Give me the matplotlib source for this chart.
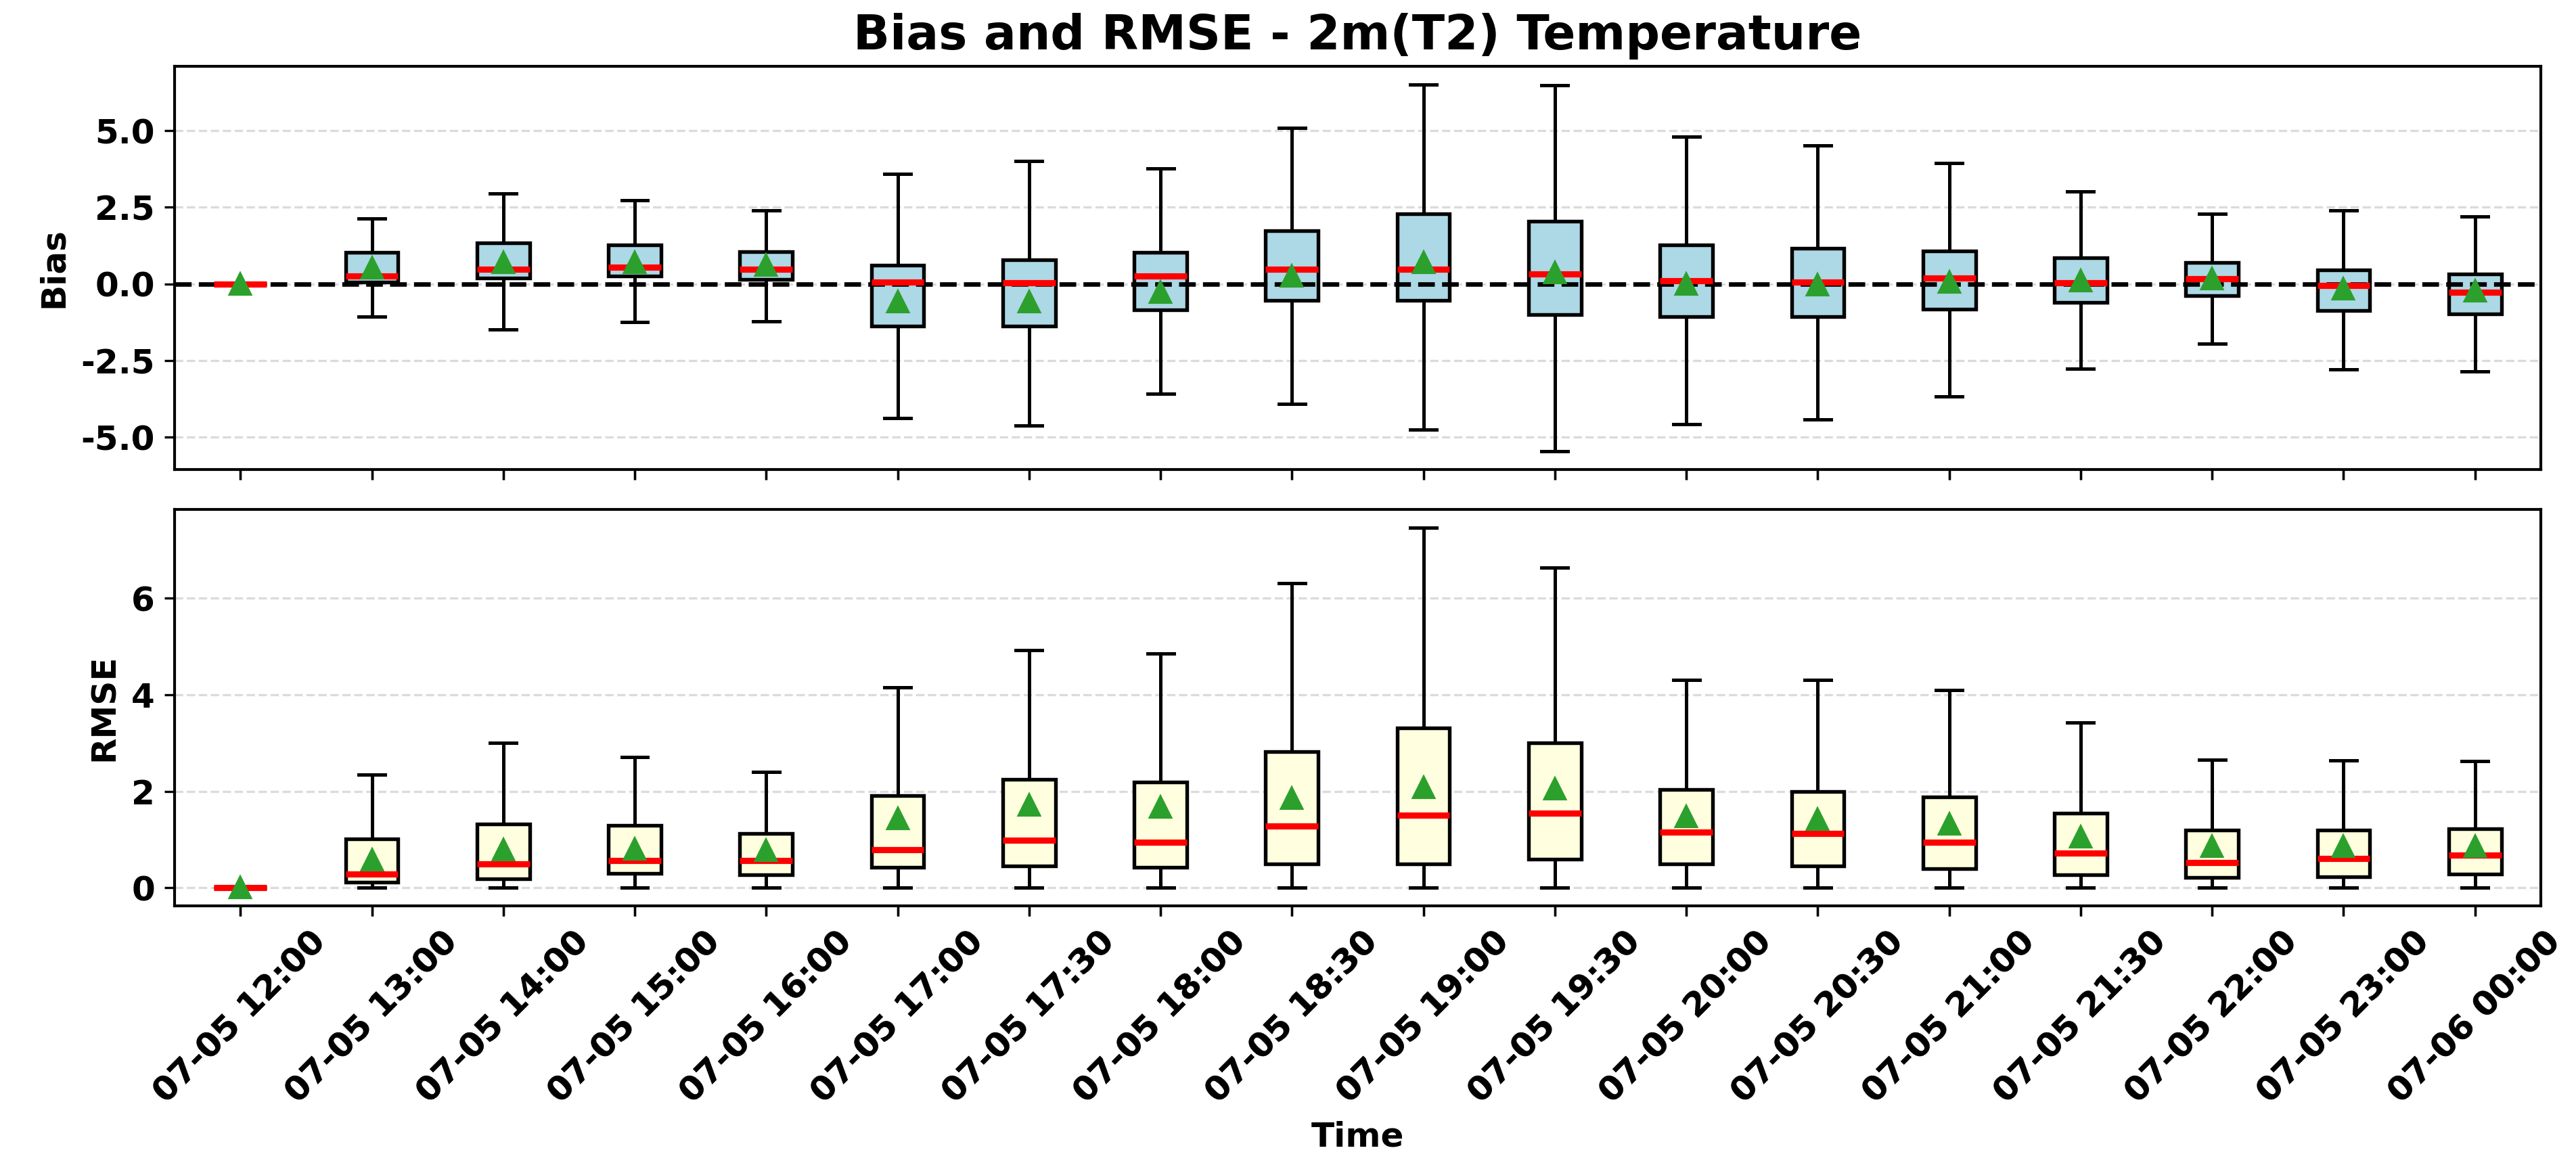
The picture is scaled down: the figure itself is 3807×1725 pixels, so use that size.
import matplotlib
matplotlib.use('Agg')
import matplotlib.pyplot as plt
from matplotlib.ticker import MultipleLocator, FormatStrFormatter

times = ['07-05 12:00', '07-05 13:00', '07-05 14:00', '07-05 15:00', '07-05 16:00',
         '07-05 17:00', '07-05 17:30', '07-05 18:00', '07-05 18:30', '07-05 19:00',
         '07-05 19:30', '07-05 20:00', '07-05 20:30', '07-05 21:00', '07-05 21:30',
         '07-05 22:00', '07-05 23:00', '07-06 00:00']

# Bias (box statistics)
bias_lo = [0, -1.07, -1.49, -1.24, -1.21, -4.37, -4.62, -3.58, -3.90, -4.74, -5.45, -4.57, -4.42, -3.67, -2.77, -1.95, -2.79, -2.84]
bias_q1 = [0, 0.07, 0.20, 0.27, 0.14, -1.38, -1.38, -0.84, -0.54, -0.54, -0.99, -1.07, -1.07, -0.82, -0.59, -0.37, -0.87, -0.97]
bias_med = [0, 0.27, 0.48, 0.54, 0.48, 0.07, 0.05, 0.25, 0.48, 0.48, 0.32, 0.10, 0.07, 0.20, 0.05, 0.17, -0.05, -0.28]
bias_q3 = [0, 1.04, 1.33, 1.28, 1.06, 0.61, 0.79, 1.03, 1.74, 2.29, 2.04, 1.28, 1.16, 1.08, 0.85, 0.71, 0.46, 0.32]
bias_hi = [0, 2.14, 2.96, 2.72, 2.39, 3.59, 4.00, 3.77, 5.10, 6.50, 6.47, 4.80, 4.52, 3.94, 3.02, 2.29, 2.39, 2.21]
bias_mean = [0, 0.52, 0.71, 0.71, 0.61, -0.57, -0.57, -0.28, 0.27, 0.71, 0.36, 0.0, -0.03, 0.07, 0.10, 0.17, -0.16, -0.23]

# RMSE
rmse_lo = [0] * 18
rmse_q1 = [0, 0.11, 0.19, 0.30, 0.27, 0.42, 0.46, 0.43, 0.49, 0.50, 0.60, 0.50, 0.45, 0.39, 0.27, 0.22, 0.23, 0.28]
rmse_med = [0, 0.29, 0.49, 0.56, 0.56, 0.79, 0.99, 0.95, 1.28, 1.51, 1.55, 1.16, 1.13, 0.95, 0.72, 0.53, 0.61, 0.68]
rmse_q3 = [0, 1.02, 1.32, 1.29, 1.13, 1.91, 2.25, 2.19, 2.82, 3.31, 3.01, 2.04, 1.99, 1.88, 1.54, 1.20, 1.20, 1.23]
rmse_hi = [0, 2.34, 3.00, 2.71, 2.40, 4.16, 4.92, 4.85, 6.31, 7.47, 6.64, 4.31, 4.31, 4.10, 3.42, 2.65, 2.64, 2.62]
rmse_mean = [0, 0.58, 0.79, 0.80, 0.77, 1.44, 1.72, 1.67, 1.85, 2.08, 2.05, 1.48, 1.42, 1.32, 1.05, 0.86, 0.86, 0.86]


def make_stats(lo, q1, med, q3, hi, mean):
    return [dict(whislo=a, q1=b, med=c, q3=d, whishi=e, mean=f, label=t)
            for a, b, c, d, e, f, t in zip(lo, q1, med, q3, hi, mean, times)]


def draw_box(ax, stats, face):
    ax.bxp(stats, showmeans=True, showfliers=False, patch_artist=True, widths=0.4,
           boxprops=dict(facecolor=face, edgecolor='black', linewidth=1.3),
           whiskerprops=dict(color='black', linewidth=1.2),
           capprops=dict(color='black', linewidth=1.2),
           medianprops=dict(color='red', linewidth=2.2),
           meanprops=dict(marker='^', markerfacecolor='#2ca02c', markeredgecolor='#2ca02c', markersize=7))
    ax.yaxis.grid(True, linestyle='--', color='lightgray', linewidth=0.8, alpha=0.8)
    ax.set_axisbelow(True)


plt.rcParams['font.weight'] = 'bold'
plt.rcParams['axes.labelweight'] = 'bold'
plt.rcParams['axes.titleweight'] = 'bold'
plt.rcParams['font.size'] = 12

fig = plt.figure(figsize=(3807 / 300, 1725 / 300), dpi=300)
ax1 = fig.add_axes([0.0678, 0.5977, 0.9185, 0.3455])
ax2 = fig.add_axes([0.0678, 0.2238, 0.9185, 0.3397], sharex=ax1)

draw_box(ax1, make_stats(bias_lo, bias_q1, bias_med, bias_q3, bias_hi, bias_mean), 'lightblue')
ax1.axhline(0, color='black', linestyle='--', linewidth=1.6, zorder=2.05)
ax1.set_ylabel('Bias', fontsize=12)
ax1.set_title('Bias and RMSE - 2m(T2) Temperature', fontsize=17)
ax1.tick_params(axis='x', labelbottom=False)
ax1.yaxis.set_major_locator(MultipleLocator(2.5))
ax1.yaxis.set_major_formatter(FormatStrFormatter('%.1f'))

draw_box(ax2, make_stats(rmse_lo, rmse_q1, rmse_med, rmse_q3, rmse_hi, rmse_mean), 'lightyellow')
ax2.set_ylabel('RMSE', fontsize=12)
ax2.set_xlabel('Time', fontsize=12)
for lab in ax2.get_xticklabels():
    lab.set_rotation(45)

for ax in (ax1, ax2):
    ax.tick_params(labelsize=12)
    for s in ax.spines.values():
        s.set_linewidth(1.0)

fig.savefig('out.png', dpi=300)
